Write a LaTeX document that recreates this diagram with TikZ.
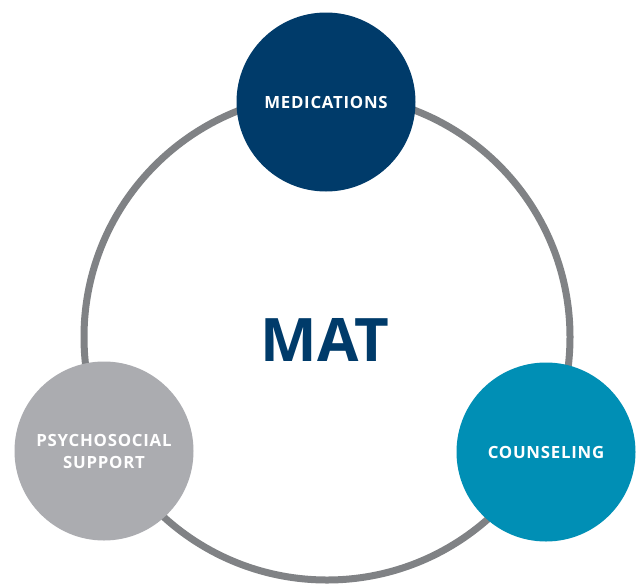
\documentclass[tikz,border=0pt]{standalone}
\usepackage{fontspec}
\setmainfont{Open Sans}
\newfontfamily\labelfont{Open Sans}[LetterSpace=4.5]
\begin{document}
\begin{tikzpicture}[x=1pt,y=-1pt,
  ring/.style={draw=ringgray,line width=7pt},
  bubble/.style={circle,minimum size=179pt,inner sep=0pt,text=white,font=\labelfont\bfseries\fontsize{16.8}{22}\selectfont,align=center},
  title/.style={text=navy,font=\bfseries\fontsize{60}{60}\selectfont}]
\definecolor{ringgray}{RGB}{128,130,133}
\definecolor{navy}{RGB}{0,59,106}
\definecolor{teal}{RGB}{0,143,181}
\definecolor{lgray}{RGB}{171,172,176}
\useasboundingbox (0,0) rectangle (637,584);
\fill[white] (0,0) rectangle (637,584);
\draw[ring] (327,337) circle[radius=243];
\node[title] (mat) at (325,340) {MAT};
\node[bubble,fill=navy] (med) at (326,102) {MEDICATIONS};
\node[bubble,fill=teal] (cou) at (546,452) {COUNSELING};
\node[bubble,fill=lgray] (psy) at (104,451) {PSYCHOSOCIAL\\SUPPORT};
\end{tikzpicture}
\end{document}
